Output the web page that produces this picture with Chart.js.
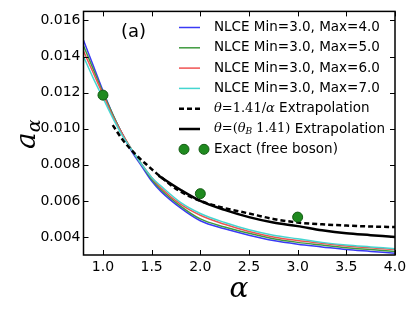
<!DOCTYPE html>
<html>
<head>
<meta charset="utf-8">
<script src="https://cdn.jsdelivr.net/npm/chart.js@4/dist/chart.umd.min.js"></script>
<style>
  html, body { margin: 0; padding: 0; background: #fff; }
  #wrap { width: 415px; height: 312px; position: relative; }
</style>
</head>
<body>
<div id="wrap"><canvas id="chart" width="415" height="312"></canvas></div>
<script>
// values
const alphaNlce = [0.8, 0.9, 1.0, 1.1, 1.2, 1.3, 1.4, 1.5, 1.6, 1.8, 2.0, 2.25, 2.5, 2.75, 3.0, 3.25, 3.5, 3.75, 4.0];
const nlceMax4 = [0.0149, 0.0135, 0.0121, 0.0108, 0.0097, 0.0087, 0.0079, 0.0071, 0.0065, 0.0056, 0.0049, 0.00445, 0.0041, 0.0038, 0.0036, 0.00345, 0.0033, 0.0032, 0.0031];
const nlceMax5 = [0.0146, 0.0133, 0.0120, 0.0108, 0.0097, 0.0088, 0.0080, 0.0072, 0.0066, 0.0057, 0.0050, 0.00455, 0.0042, 0.0039, 0.0037, 0.00355, 0.0034, 0.0033, 0.0032];
const nlceMax6 = [0.0143, 0.0131, 0.0119, 0.0107, 0.0097, 0.0088, 0.0080, 0.0073, 0.0067, 0.0058, 0.0052, 0.0047, 0.0043, 0.0040, 0.0038, 0.00365, 0.0035, 0.0034, 0.0033];
const nlceMax7 = [0.0140, 0.0128, 0.0117, 0.0106, 0.0096, 0.0088, 0.0080, 0.0073, 0.0068, 0.0059, 0.0053, 0.0048, 0.0044, 0.0041, 0.0039, 0.0037, 0.00355, 0.00345, 0.00335];

const alphaDash = [1.1, 1.2, 1.33, 1.45, 1.6, 1.77, 2.0, 2.25, 2.5, 2.75, 3.0, 3.25, 3.5, 3.75, 4.0];
const dashVals  = [0.0102, 0.0094, 0.0086, 0.0080, 0.0073, 0.0066, 0.0060, 0.0056, 0.0053, 0.0050, 0.0048, 0.0047, 0.00463, 0.00458, 0.00455];

const alphaSolid = [1.57, 1.8, 2.0, 2.25, 2.5, 2.75, 3.0, 3.25, 3.5, 3.75, 4.0];
const solidVals  = [0.0074, 0.0066, 0.0060, 0.0055, 0.0051, 0.0048, 0.0046, 0.00437, 0.0042, 0.0041, 0.0040];

const alphaExact = [1.0, 2.0, 3.0];
const exactVals  = [0.01186, 0.0064, 0.0051];

const xTicks = [1.0, 1.5, 2.0, 2.5, 3.0, 3.5, 4.0];
const yTicks = [0.004, 0.006, 0.008, 0.010, 0.012, 0.014, 0.016];

const nlceLabels = ['NLCE Min=3.0, Max=4.0', 'NLCE Min=3.0, Max=5.0', 'NLCE Min=3.0, Max=6.0', 'NLCE Min=3.0, Max=7.0'];
const nlceColors = ['#3a3af5', '#3f9a3f', '#f05252', '#45d6d0'];

function pts(xs, ys) {
  return xs.map((x, i) => ({ x: x, y: ys[i] }));
}

const SANS = '"DejaVu Sans", sans-serif';
const SERIF = '"DejaVu Serif", serif';

const nlceSeries = [nlceMax4, nlceMax5, nlceMax6, nlceMax7];
const datasets = nlceSeries.map((vals, i) => ({
  label: nlceLabels[i],
  data: pts(alphaNlce, vals),
  borderColor: nlceColors[i],
  borderWidth: 1.5,
  pointRadius: 0,
  cubicInterpolationMode: 'monotone',
  order: 6 - i
}));
datasets.push({
  label: 'theta1',
  data: pts(alphaDash, dashVals),
  borderColor: '#000',
  borderWidth: 2.5,
  borderDash: [5, 3],
  pointRadius: 0,
  cubicInterpolationMode: 'monotone',
  order: 2
});
datasets.push({
  label: 'theta2',
  data: pts(alphaSolid, solidVals),
  borderColor: '#000',
  borderWidth: 2.5,
  pointRadius: 0,
  cubicInterpolationMode: 'monotone',
  order: 1
});
datasets.push({
  label: 'Exact (free boson)',
  data: pts(alphaExact, exactVals),
  showLine: false,
  pointRadius: 5,
  pointBackgroundColor: '#1f8a1f',
  pointBorderColor: '#145c14',
  pointBorderWidth: 1,
  order: 0
});

// legend rows, math parts in serif italic
const legendRows = [
  [{ t: nlceLabels[0], f: '13.5px ' + SANS }],
  [{ t: nlceLabels[1], f: '13.5px ' + SANS }],
  [{ t: nlceLabels[2], f: '13.5px ' + SANS }],
  [{ t: nlceLabels[3], f: '13.5px ' + SANS }],
  [{ t: 'θ', f: 'italic 13px ' + SERIF }, { t: '=1.41/', f: '13px ' + SERIF }, { t: 'α', f: 'italic 13px ' + SERIF }, { t: ' Extrapolation', f: '13.5px ' + SANS }],
  [{ t: 'θ', f: 'italic 13px ' + SERIF }, { t: '=(', f: '13px ' + SERIF }, { t: 'θ', f: 'italic 13px ' + SERIF }, { t: 'B', f: 'italic 9px ' + SERIF, sub: 3 }, { t: ' 1.41)', f: '13px ' + SERIF }, { t: ' Extrapolation', f: '13.5px ' + SANS }],
  [{ t: 'Exact (free boson)', f: '13.5px ' + SANS }]
];

const framePlugin = {
  id: 'frame',
  afterDraw(chart) {
    const ctx = chart.ctx;
    const a = chart.chartArea;
    const xs = chart.scales.x, ys = chart.scales.y;
    ctx.save();
    ctx.strokeStyle = '#000';
    ctx.lineWidth = 1.5;
    ctx.strokeRect(a.left, a.top, a.right - a.left, a.bottom - a.top);
    ctx.lineWidth = 1;
    ctx.beginPath();
    xTicks.forEach(v => {
      const px = Math.round(xs.getPixelForValue(v)) + 0.5;
      ctx.moveTo(px, a.bottom); ctx.lineTo(px, a.bottom - 5);
      ctx.moveTo(px, a.top); ctx.lineTo(px, a.top + 5);
    });
    yTicks.forEach(v => {
      const py = Math.round(ys.getPixelForValue(v)) + 0.5;
      ctx.moveTo(a.left, py); ctx.lineTo(a.left + 5, py);
      ctx.moveTo(a.right, py); ctx.lineTo(a.right - 5, py);
    });
    ctx.stroke();

    // panel tag
    ctx.fillStyle = '#000';
    ctx.font = '18px ' + SANS;
    ctx.textBaseline = 'middle';
    ctx.fillText('(a)', 121, 32);

    // legend
    const ds = chart.data.datasets;
    const order = [0, 1, 2, 3, 4, 5, 6];
    order.forEach((di, row) => {
      const y = 27.5 + row * 20.3;
      const d = ds[di];
      if (d.showLine === false) {
        [184, 204].forEach(cx => {
          ctx.beginPath();
          ctx.arc(cx, y, 5, 0, Math.PI * 2);
          ctx.fillStyle = d.pointBackgroundColor;
          ctx.fill();
          ctx.strokeStyle = d.pointBorderColor;
          ctx.lineWidth = 1;
          ctx.stroke();
        });
      } else {
        ctx.beginPath();
        ctx.setLineDash(d.borderDash || []);
        ctx.strokeStyle = d.borderColor;
        ctx.lineWidth = d.borderWidth;
        ctx.moveTo(179, y); ctx.lineTo(200, y);
        ctx.stroke();
        ctx.setLineDash([]);
      }
      let tx = 214;
      ctx.fillStyle = '#000';
      ctx.textBaseline = 'middle';
      legendRows[row].forEach(seg => {
        ctx.font = seg.f;
        ctx.fillText(seg.t, tx, y + (seg.sub || 0));
        tx += ctx.measureText(seg.t).width;
      });
    });

    // axis titles
    ctx.textBaseline = 'alphabetic';
    ctx.textAlign = 'center';
    ctx.font = 'italic 28px ' + SERIF;
    ctx.fillText('α', 239, 297);

    ctx.save();
    ctx.translate(35, 149);
    ctx.rotate(-Math.PI / 2);
    ctx.textAlign = 'left';
    ctx.font = 'italic 28px ' + SERIF;
    ctx.fillText('a', 0, 0);
    const w = ctx.measureText('a').width;
    ctx.font = 'italic 19px ' + SERIF;
    ctx.fillText('α', w, 5);
    ctx.restore();
    ctx.restore();
  }
};

new Chart(document.getElementById('chart'), {
  type: 'line',
  data: { datasets: datasets },
  options: {
    responsive: false,
    animation: false,
    layout: { padding: { left: 0, top: 9, right: 20, bottom: 0 } },
    plugins: { legend: { display: false }, tooltip: { enabled: false } },
    scales: {
      x: {
        type: 'linear',
        min: 0.8,
        max: 4.0,
        grid: { display: false, drawTicks: false },
        border: { display: false },
        afterBuildTicks: s => { s.ticks = xTicks.map(v => ({ value: v })); },
        afterFit: s => { s.height = 57; },
        ticks: {
          padding: 4,
          color: '#000',
          font: { family: 'DejaVu Sans', size: 14 },
          callback: v => v.toFixed(1)
        }
      },
      y: {
        type: 'linear',
        min: 0.003,
        max: 0.0165,
        grid: { display: false, drawTicks: false },
        border: { display: false },
        afterBuildTicks: s => { s.ticks = yTicks.map(v => ({ value: v })); },
        afterFit: s => { s.width = 83.5; },
        ticks: {
          padding: 3,
          color: '#000',
          font: { family: 'DejaVu Sans', size: 14 },
          callback: v => v.toFixed(3)
        }
      }
    }
  },
  plugins: [framePlugin]
});
</script>
</body>
</html>
